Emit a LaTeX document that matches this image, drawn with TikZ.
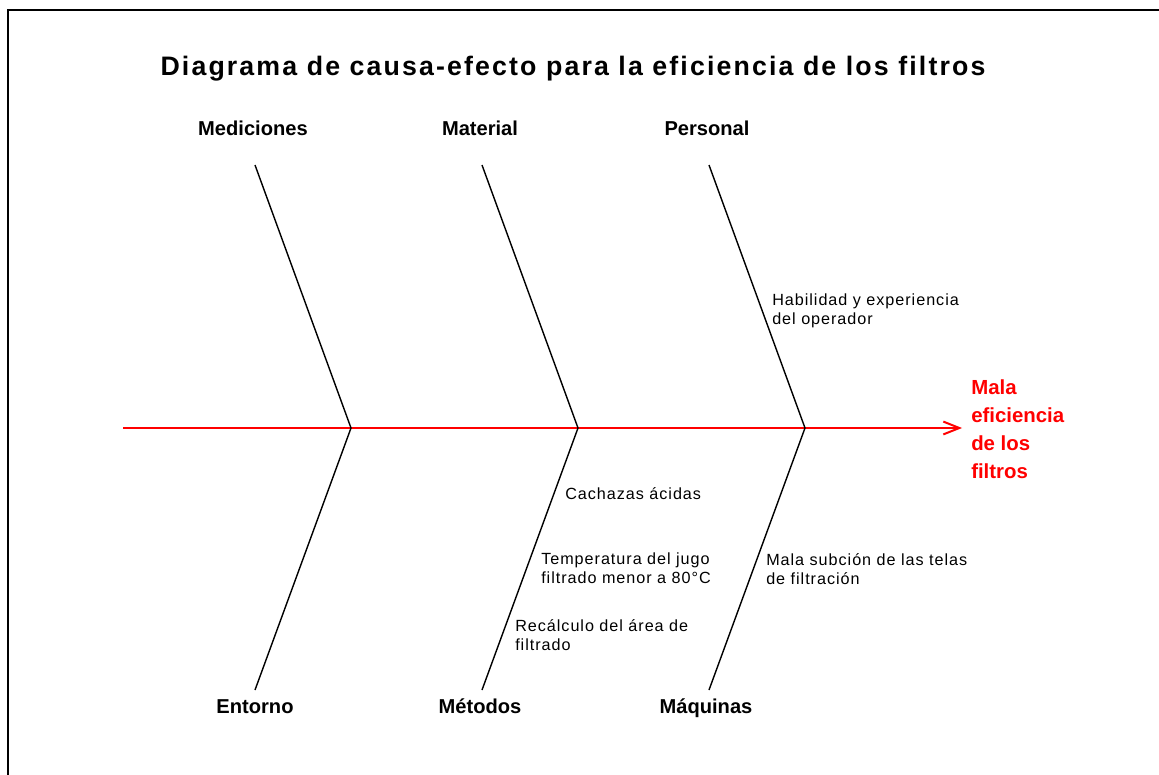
\documentclass[tikz,border=0pt]{standalone}
\usepackage{fontspec}
\setmainfont{Liberation Sans}
\newfontfamily\titlefont[LetterSpace=8]{Liberation Sans}
\newfontfamily\causefont[LetterSpace=6]{Liberation Sans}
\usetikzlibrary{arrows.meta}

\tikzset{
  category/.style={font=\fontsize{14.3}{16}\selectfont\bfseries, anchor=base},
  cause/.style={font=\causefont\fontsize{11.5}{13.5}\selectfont, align=left, anchor=west, inner sep=0pt},
  effectbox/.style={font=\fontsize{14.5}{19.8}\selectfont\bfseries, text=red, align=left, anchor=west, inner sep=0pt},
  bone/.style={black, line width=1pt},
  spine/.style={red, line width=1.4pt, -{Straight Barb[length=4mm,width=3.2mm]}},
}

\begin{document}
\begin{tikzpicture}[x=0.025cm, y=-0.025cm]
  \useasboundingbox (0,0) rectangle (1159,775);
  % Frame
  \draw[line width=1pt] (8,775) -- (8,10) -- (1159,10);
  % Title
  \node[font=\titlefont\fontsize{19}{22}\selectfont\bfseries] (title) at (573,69) {Diagrama de causa-efecto para la eficiencia de los filtros};
  % Joints
  \foreach \i/\x in {1/351, 2/578, 3/805} {
    \coordinate (j\i) at (\x,428);
    \coordinate (t\i) at (\x-96,165);
    \coordinate (b\i) at (\x-96,690);
  }
  % Categories
  \foreach \n/\txt/\x/\y in {med/Mediciones/253/135, mat/Material/480/135, per/Personal/707/135,
                             ent/Entorno/255/713, met/Métodos/480/713, maq/Máquinas/706/713} {
    \node[category] (\n) at (\x,\y) {\txt};
  }
  % Spine
  \coordinate (tail) at (123,428);
  \coordinate (head) at (962,428);
  \draw[spine] (tail) -- (head);
  \node[effectbox] (effect) at (971,429) {Mala\\eficiencia\\de los\\filtros};
  % Bones
  \foreach \i in {1,2,3} {
    \draw[bone] (t\i) -- (j\i) -- (b\i);
  }
  % Causes
  \node[cause] (hab) at (772,311) {Habilidad y experiencia\\del operador};
  \node[cause] (cach) at (565,494) {Cachazas ácidas};
  \node[cause] (temp) at (541,568) {Temperatura del jugo\\filtrado menor a 80°C};
  \node[cause] (rec) at (515,635) {Recálculo del área de\\filtrado};
  \node[cause] (suc) at (766,569) {Mala subción de las telas\\de filtración};
\end{tikzpicture}
\end{document}
